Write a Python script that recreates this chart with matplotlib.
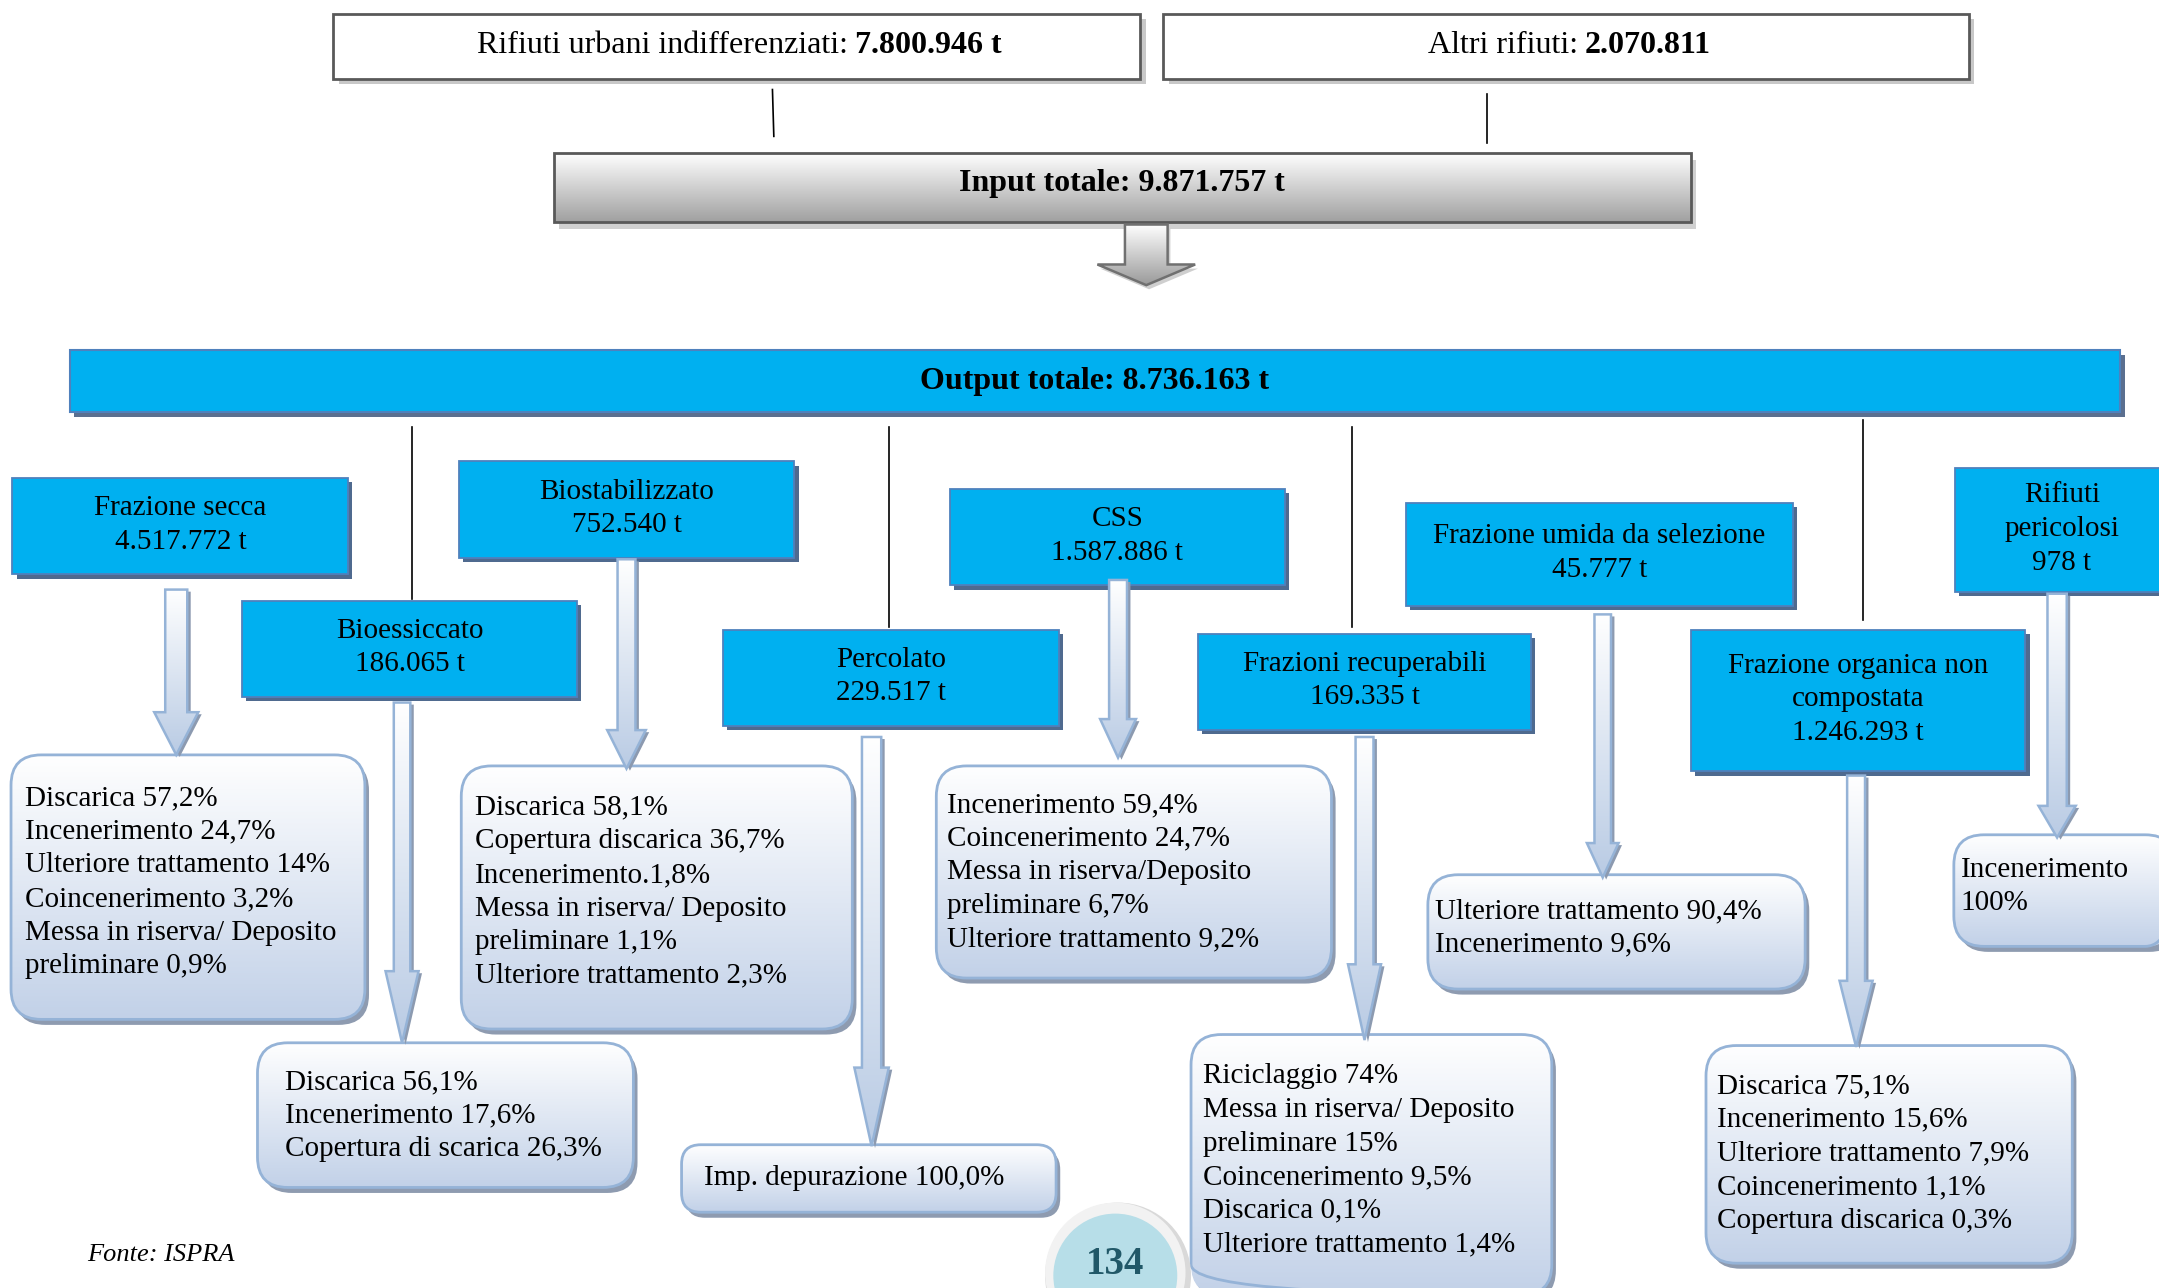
import numpy as np
import matplotlib.pyplot as plt
from matplotlib.patches import FancyBboxPatch, Rectangle, Polygon, Circle
from matplotlib.colors import LinearSegmentedColormap

plt.rcParams['font.family'] = ['Liberation Serif', 'DejaVu Serif']

# --- data -------------------------------------------------------------
input_labels = ['Rifiuti urbani indifferenziati:', 'Altri rifiuti:']
input_values = ['7.800.946 t', '2.070.811']
input_total = '9.871.757 t'
output_total = '8.736.163 t'

categories = ['Frazione secca', 'Bioessiccato', 'Biostabilizzato', 'Percolato', 'CSS',
              'Frazioni recuperabili', 'Frazione umida da selezione',
              'Frazione organica non\ncompostata', 'Rifiuti\npericolosi']
tonnes = ['4.517.772', '186.065', '752.540', '229.517', '1.587.886',
          '169.335', '45.777', '1.246.293', '978']

destinations = [
    ['Discarica 57,2%', 'Incenerimento 24,7%', 'Ulteriore trattamento 14%',
     'Coincenerimento 3,2%', 'Messa in riserva/ Deposito', 'preliminare 0,9%'],
    ['Discarica 56,1%', 'Incenerimento 17,6%', 'Copertura di scarica 26,3%'],
    ['Discarica 58,1%', 'Copertura discarica 36,7%', 'Incenerimento.1,8%',
     'Messa in riserva/ Deposito', 'preliminare 1,1%', 'Ulteriore trattamento 2,3%'],
    ['Imp. depurazione 100,0%'],
    ['Incenerimento 59,4%', 'Coincenerimento 24,7%', 'Messa in riserva/Deposito',
     'preliminare 6,7%', 'Ulteriore trattamento 9,2%'],
    ['Riciclaggio 74%', 'Messa in riserva/ Deposito', 'preliminare 15%',
     'Coincenerimento 9,5%', 'Discarica 0,1%', 'Ulteriore trattamento 1,4%'],
    ['Ulteriore trattamento 90,4%', 'Incenerimento 9,6%'],
    ['Discarica 75,1%', 'Incenerimento 15,6%', 'Ulteriore trattamento 7,9%',
     'Coincenerimento 1,1%', 'Copertura discarica 0,3%'],
    ['Incenerimento', '100%'],
]
source = 'Fonte: ISPRA'
page = '134'

# --- layout (page units, y downwards) ---------------------------------
W, H = 1568, 935
cat_boxes = [(9, 253, 347, 417), (176, 419, 436, 506), (333, 577, 335, 405),
             (525, 769, 457, 527), (690, 933, 355, 425), (870, 1112, 460, 530),
             (1021, 1302, 365, 440), (1228, 1471, 457, 560), (1420, 1575, 340, 430)]
# arrows: centre, top, head start, tip, shaft half width, head half width
arrows = [(128, 428, 517, 548, 8, 16), (292, 510, 705, 757, 6, 12),
          (455, 406, 530, 558, 6.5, 14), (633, 535, 775, 832, 7, 12.5),
          (812, 421, 522, 550, 6.5, 13), (991, 535, 700, 755, 6.5, 12),
          (1164, 446, 612, 637, 6, 11.5), (1348, 563, 712, 760, 6.5, 12),
          (1494, 431, 585, 608, 7, 13.5)]
dest_boxes = [(8, 265, 548, 740), (187, 460, 757, 862), (335, 619, 556, 747),
              (495, 767, 831, 880), (680, 967, 556, 710), (865, 1127, 751, 940),
              (1037, 1311, 635, 718), (1239, 1505, 759, 917), (1419, 1580, 606, 687)]
dest_text = [(18, 570), (207, 776), (345, 577), (511, 846), (688, 575),
             (874, 772), (1042, 652), (1247, 779), (1424, 622)]
connector_x = [(299, 310, 435), (646, 310, 455), (982, 310, 455), (1353, 305, 450)]

BLUE = '#00B0F0'
FS = 21
HFS = 23
LS = 1.38

fig = plt.figure(figsize=(21.59, 12.88), dpi=100)
ax = fig.add_axes([0, 0, 1, 1])
ax.set_axis_off()


def gradient(patch, c_top, c_bot, y0, y1, x0, x1, z):
    patch.set_transform(ax.transData)
    cmap = LinearSegmentedColormap.from_list('g', [c_top, c_bot])
    grad = np.linspace(0, 1, 256).reshape(-1, 1)
    im = ax.imshow(grad, cmap=cmap, extent=(x0, x1, y1, y0), origin='upper',
                   aspect='auto', zorder=z, interpolation='bilinear')
    im.set_clip_path(patch)


# top input boxes
top_boxes = [(242, 828), (845, 1430)]
split_x = [616, 1146]
for (x0, x1), lab, val, sx in zip(top_boxes, input_labels, input_values, split_x):
    ax.add_patch(Rectangle((x0 + 4, 14), x1 - x0, 47, fc='#c8c8c8', ec='none', zorder=1))
    ax.add_patch(Rectangle((x0, 10), x1 - x0, 47, fc='white', ec='#595959', lw=2, zorder=2))
    ax.text(sx, 33, lab, ha='right', va='center', fontsize=HFS, zorder=3)
    ax.text(sx + 5, 33, val, ha='left', va='center', fontsize=HFS, weight='bold', zorder=3)

ax.plot([561, 562], [65, 99], color='black', lw=1.2)
ax.plot([1080, 1080], [68, 104], color='black', lw=1.2)

# input total box
ax.add_patch(Rectangle((406, 116), 826, 50, fc='#d0d0d0', ec='none', zorder=1))
p = Rectangle((402, 111), 826, 50, fc='none', ec='none')
ax.add_patch(p)
gradient(p, '#ffffff', '#a0a0a0', 111, 161, 402, 1228, 2)
ax.add_patch(Rectangle((402, 111), 826, 50, fc='none', ec='#595959', lw=2, zorder=3))
ax.text(815, 133, 'Input totale: ' + input_total, ha='center', va='center',
        fontsize=HFS, weight='bold', zorder=4)

# grey arrow
c, t, s, tip, w, h = 832.5, 163, 192, 207, 15.5, 35.5
pts = [(c - w, t), (c + w, t), (c + w, s), (c + h, s), (c, tip), (c - h, s), (c - w, s)]
ax.add_patch(Polygon([(x + 2, y + 3) for x, y in pts], fc='#cfcfcf', ec='none', zorder=1))
pg = Polygon(pts, fc='none', ec='none')
ax.add_patch(pg)
gradient(pg, '#ffffff', '#9a9a9a', t, tip, c - h, c + h, 2)
ax.add_patch(Polygon(pts, fc='none', ec='#707070', lw=1.8, zorder=3))

# output bar
ax.add_patch(Rectangle((54, 258), 1489, 45, fc='#5b6f8f', ec='none', zorder=1))
ax.add_patch(Rectangle((51, 254), 1489, 45, fc=BLUE, ec='#4f81bd', lw=1.5, zorder=2))
ax.text(795, 277, 'Output totale: ' + output_total, ha='center', va='center',
        fontsize=HFS, weight='bold', zorder=3)

for x, y0, y1 in connector_x:
    ax.plot([x, x], [y0, y1], color='black', lw=1.2, zorder=0.5)

# category boxes
for (x0, x1, y0, y1), name, tn in zip(cat_boxes, categories, tonnes):
    ax.add_patch(Rectangle((x0 + 3, y0 + 3), x1 - x0, y1 - y0, fc='#4f6a8f', ec='none', zorder=5))
    ax.add_patch(Rectangle((x0, y0), x1 - x0, y1 - y0, fc=BLUE, ec='#4f81bd', lw=1.3, zorder=6))
    ax.text((x0 + x1) / 2, (y0 + y1) / 2 - 1, name + '\n' + tn + ' t', ha='center',
            va='center', multialignment='center', fontsize=FS, linespacing=LS, zorder=7)

# destination boxes
for (x0, x1, y0, y1), lines, (tx, ty) in zip(dest_boxes, destinations, dest_text):
    r = 22 if y1 - y0 > 60 else 14
    ax.add_patch(FancyBboxPatch((x0 + 3, y0 + 4), x1 - x0, y1 - y0,
                                boxstyle=f'round,pad=0,rounding_size={r}',
                                fc='#8e9bb0', ec='none', zorder=4))
    fb = FancyBboxPatch((x0, y0), x1 - x0, y1 - y0, boxstyle=f'round,pad=0,rounding_size={r}',
                        fc='none', ec='none')
    ax.add_patch(fb)
    gradient(fb, '#ffffff', '#c2d1e8', y0, y1, x0, x1, 4.5)
    ax.add_patch(FancyBboxPatch((x0, y0), x1 - x0, y1 - y0,
                                boxstyle=f'round,pad=0,rounding_size={r}',
                                fc='none', ec='#95b3d7', lw=2, zorder=4.8))
    ax.text(tx, ty, '\n'.join(lines), ha='left', va='top', fontsize=FS,
            linespacing=LS, zorder=4.9)

# blue arrows
for c, t, s, tip, w, h in arrows:
    pts = [(c - w, t), (c + w, t), (c + w, s), (c + h, s), (c, tip), (c - h, s), (c - w, s)]
    ax.add_patch(Polygon([(x + 2.5, y + 1.5) for x, y in pts], fc='#8c9ab0', ec='none', zorder=8))
    pg = Polygon(pts, fc='none', ec='none')
    ax.add_patch(pg)
    gradient(pg, '#ffffff', '#b9cbe4', t, tip, c - h, c + h, 8.5)
    ax.add_patch(Polygon(pts, fc='none', ec='#95b3d7', lw=1.8, zorder=9))

# page number badge
ax.add_patch(Circle((812, 926), 53, fc='#d9d9d9', ec='none', zorder=10))
ax.add_patch(Circle((810, 924), 51, fc='#f2f2f2', ec='none', zorder=10.5))
ax.add_patch(Circle((810, 926), 45, fc='#b7dee8', ec='none', zorder=11))
ax.text(810, 918, page, ha='center', va='center', fontsize=28, weight='bold',
        color='#215868', zorder=12)

ax.text(63, 911, source, ha='left', va='center', fontsize=19, style='italic')

ax.set_xlim(0, W)
ax.set_ylim(H, 0)
fig.savefig('out.png', dpi=100)
